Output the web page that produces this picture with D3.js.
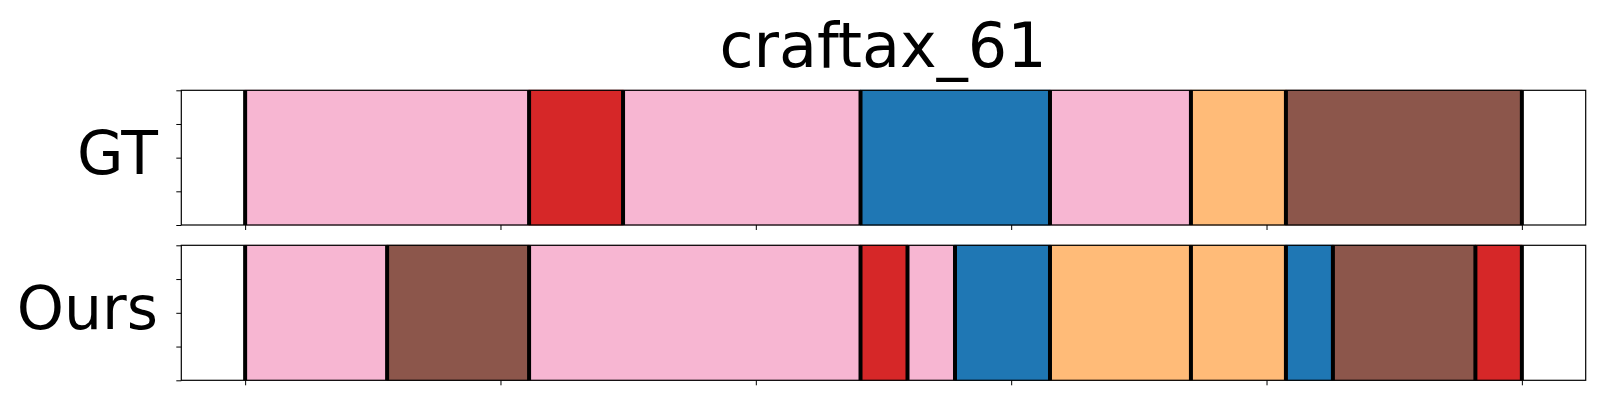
<!DOCTYPE html>
<html><head><meta charset="utf-8">
<script src="https://cdn.jsdelivr.net/npm/d3@7"></script>
<style>html,body{margin:0;padding:0;background:#fff}svg{display:block}</style>
</head><body>
<svg id="chart" width="1600" height="400"></svg>
<script>
// data
const title = "craftax_61";
const rowLabels = ["GT", "Ours"];
const gtBounds = [0, 55.6, 74.0, 120.5, 157.6, 185.2, 203.8, 250];
const gtLabels = ["pink", "red", "pink", "blue", "pink", "orange", "brown"];
const oursBounds = [0, 27.8, 55.6, 120.5, 129.7, 139.0, 157.6, 185.2, 203.8, 213.0, 240.9, 250];
const oursLabels = ["pink", "brown", "pink", "red", "pink", "blue", "orange", "orange", "blue", "brown", "red"];
const xTicks = [0, 50, 100, 150, 200, 250];
const yTicks = [0, 0.25, 0.5, 0.75, 1];
const palette = {pink: "#f7b6d2", red: "#d62728", blue: "#1f77b4", orange: "#ffbb78", brown: "#8c564b"};

const svg = d3.select("#chart");
const font = "DejaVu Sans, sans-serif";
const left = 181.3, right = 1585.7;
const x = d3.scaleLinear().domain([-12.5, 262.5]).range([left, right]);

svg.append("text").attr("x", 883).attr("y", 66.5).attr("text-anchor", "middle")
  .attr("font-family", font).attr("font-size", 62).attr("fill", "#000").text(title);

const panels = [
  {label: rowLabels[0], bounds: gtBounds, labels: gtLabels, top: 90.3, bottom: 225, base: 174},
  {label: rowLabels[1], bounds: oursBounds, labels: oursLabels, top: 245.3, bottom: 380.3, base: 329.3}
];

panels.forEach(p => {
  const g = svg.append("g");
  const y = d3.scaleLinear().domain([0, 1]).range([p.bottom, p.top]);
  const segs = p.labels.map((c, i) => ({c, a: p.bounds[i], b: p.bounds[i + 1]}));
  g.selectAll("rect.seg").data(segs).join("rect").attr("class", "seg")
    .attr("x", d => x(d.a)).attr("width", d => x(d.b) - x(d.a))
    .attr("y", y(1)).attr("height", y(0) - y(1))
    .attr("fill", d => palette[d.c])
    .attr("stroke", d => d3.color(palette[d.c]).darker(0.4)).attr("stroke-width", 1);
  g.selectAll("line.bd").data(p.bounds).join("line").attr("class", "bd")
    .attr("x1", d => x(d)).attr("x2", d => x(d))
    .attr("y1", y(1)).attr("y2", y(0))
    .attr("stroke", "#000").attr("stroke-width", 4);
  const xa = g.append("g").attr("transform", `translate(0,${p.bottom})`)
    .call(d3.axisBottom(x).tickValues(xTicks).tickSize(5).tickFormat(""));
  const ya = g.append("g").attr("transform", `translate(${left},0)`)
    .call(d3.axisLeft(y).tickValues(yTicks).tickSize(5).tickFormat(""));
  [xa, ya].forEach(a => { a.select(".domain").remove(); a.selectAll("line").attr("stroke", "#000").attr("stroke-width", 1); });
  g.append("rect").attr("x", left).attr("y", p.top).attr("width", right - left).attr("height", p.bottom - p.top)
    .attr("fill", "none").attr("stroke", "#000").attr("stroke-width", 1.2);
  g.append("text").attr("x", 158).attr("y", p.base).attr("text-anchor", "end")
    .attr("font-family", font).attr("font-size", 60).attr("fill", "#000").text(p.label);
});
</script>
</body></html>
